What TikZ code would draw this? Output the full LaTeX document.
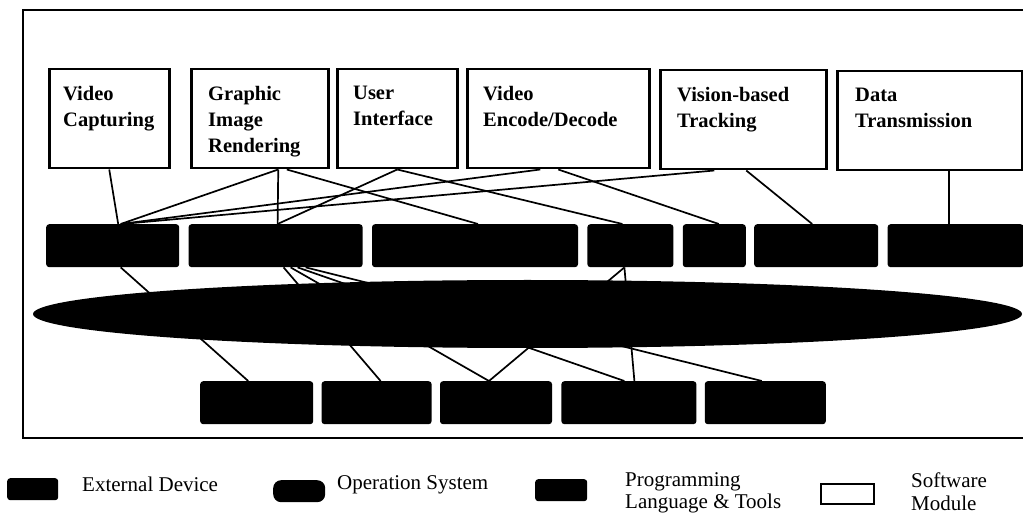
\documentclass[tikz,border=0pt]{standalone}
\usepackage{fontspec}
\setmainfont{Liberation Serif}
\usetikzlibrary{positioning, shapes.geometric}

\begin{document}
\begin{tikzpicture}[x=1pt, y=-1pt,
    module/.style={draw, line width=2.5pt, fill=white, minimum height=99pt, anchor=north west, inner sep=0pt},
    modtext/.style={align=left, inner sep=0pt, font=\bfseries\fontsize{20.5}{26}\selectfont},
    tool/.style={fill=black, rounded corners=3pt, minimum height=43pt, inner sep=0pt},
    device/.style={fill=black, rounded corners=3pt, minimum height=43pt, inner sep=0pt},
    link/.style={line width=1.7pt},
    legtext/.style={inner sep=0pt, align=left, font=\fontsize{21}{22.5}\selectfont}]

    \useasboundingbox (0,0) rectangle (1023,521);

    % outer frame
    \draw[line width=2pt] (1023,10) -- (23,10) -- (23,438) -- (1023,438);

    % software modules
    \node[module, minimum width=120pt] (vcap) at (48,68) {};
    \node[module, minimum width=137pt] (gir) at (190,68) {};
    \node[module, minimum width=120pt] (ui) at (336,68) {};
    \node[module, minimum width=182pt] (ved) at (466,68) {};
    \node[module, minimum width=166pt] (vbt) at (659,69) {};
    \node[module, minimum width=185pt] (dtx) at (836,70) {};

    \node[modtext, below right=18pt and 15pt of vcap.north west] (vcap-t) {Video\\Capturing};
    \node[modtext, below right=18pt and 18pt of gir.north west] (gir-t) {Graphic\\Image\\Rendering};
    \node[modtext, below right=18pt and 17pt of ui.north west] (ui-t) {User\\Interface};
    \node[modtext, below right=18pt and 17pt of ved.north west] (ved-t) {Video\\Encode/Decode};
    \node[modtext, below right=18pt and 18pt of vbt.north west] (vbt-t) {Vision-based\\Tracking};
    \node[modtext, below right=18pt and 19pt of dtx.north west] (dtx-t) {Data\\Transmission};

    % programming language & tools
    \node[tool, minimum width=133pt, anchor=north west] (p1) at (46,224) {};
    \node[tool, minimum width=174pt, right=9pt of p1] (p2) {};
    \node[tool, minimum width=206pt, right=9pt of p2] (p3) {};
    \node[tool, minimum width=86pt, right=9pt of p3] (p4) {};
    \node[tool, minimum width=63pt, right=9pt of p4] (p5) {};
    \node[tool, minimum width=124pt, right=8pt of p5] (p6) {};
    \node[tool, minimum width=136pt, right=9pt of p6] (p7) {};

    % external devices
    \node[device, minimum width=113pt, anchor=north west] (e1) at (200,381) {};
    \node[device, minimum width=110pt, right=8pt of e1] (e2) {};
    \node[device, minimum width=112pt, right=8pt of e2] (e3) {};
    \node[device, minimum width=135pt, right=9pt of e3] (e4) {};
    \node[device, minimum width=121pt, right=8pt of e4] (e5) {};

    % modules to tools
    \draw[link] (vcap.south) -- ([xshift=5.5pt]p1.north);
    \draw[link] ([xshift=18.5pt]gir.south) -- ([xshift=8pt]p1.north);
    \draw[link] ([xshift=18.5pt]gir.south) -- ([xshift=2pt]p2.north);
    \draw[link] ([xshift=27pt]gir.south) -- ([xshift=3pt]p3.north);
    \draw[link] (ui.south) -- ([xshift=2pt]p2.north);
    \draw[link] (ui.south) -- ([xshift=-8pt]p4.north);
    \draw[link] ([xshift=-18pt]ved.south) -- ([xshift=8pt]p1.north);
    \draw[link] (ved.south) -- ([xshift=4.5pt]p5.north);
    \draw[link] ([xshift=-29pt]vbt.south) -- ([xshift=9pt]p1.north);
    \draw[link] ([xshift=3pt]vbt.south) -- ([xshift=-4pt]p6.north);
    \draw[link] ([xshift=19.5pt]dtx.south) -- ([xshift=19.5pt]dtx.south |- p7.north);

    % tools to devices, the OS covers them
    \draw[link] ([xshift=8pt]p1.south) -- ([xshift=-8.5pt]e1.north);
    \draw[link] ([xshift=8pt]p2.south) -- ([xshift=4pt]e2.north);
    \draw[link] ([xshift=15pt]p2.south) -- ([xshift=-7pt]e3.north);
    \draw[link] ([xshift=22pt]p2.south) -- ([xshift=-4.5pt]e4.north);
    \draw[link] ([xshift=30pt]p2.south) -- ([xshift=-3.5pt]e5.north);
    \draw[link] ([xshift=-6pt]p4.south) -- ([xshift=-7pt]e3.north);
    \draw[link] ([xshift=-6pt]p4.south) -- ([xshift=5.5pt]e4.north);

    % operation system
    \node[ellipse, fill=black, minimum width=989pt, minimum height=68pt, inner sep=0pt] (os) at (527.5,314) {};

    % legend
    \node[device, minimum width=51pt, minimum height=22pt, anchor=north west] (lg-dev) at (7,478) {};
    \node[legtext, anchor=base west] (lg-dev-t) at (82,491) {External Device};
    \node[fill=black, rounded corners=8pt, minimum width=52pt, minimum height=22pt, inner sep=0pt, anchor=north west] (lg-os) at (273,480) {};
    \node[legtext, anchor=base west] (lg-os-t) at (337,489) {Operation System};
    \node[tool, minimum width=52pt, minimum height=22pt, anchor=north west] (lg-tool) at (535,479) {};
    \node[legtext, anchor=north west] (lg-tool-t) at (625,472) {Programming\\Language \& Tools};
    \node[module, minimum width=53pt, minimum height=20pt, line width=2pt] (lg-mod) at (820,483) {};
    \node[legtext, anchor=north west] (lg-mod-t) at (911,473) {Software\\Module};
\end{tikzpicture}
\end{document}
